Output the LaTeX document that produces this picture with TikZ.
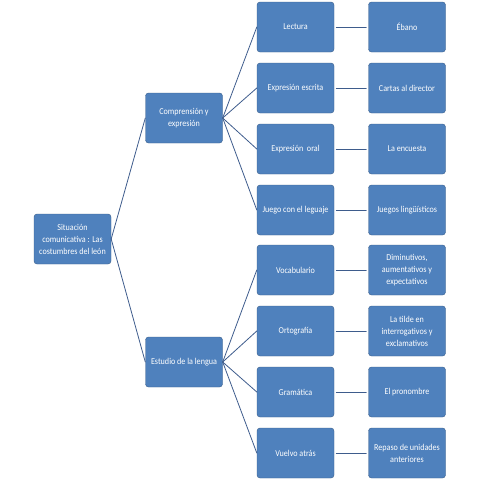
\documentclass[tikz,border=0pt]{standalone}
\usepackage{fontspec}
\setmainfont{Carlito}[FakeStretch=0.9]
\usepackage{tikz}
\definecolor{cajaazul}{RGB}{79,129,189}
\definecolor{bordeazul}{RGB}{56,93,138}
\definecolor{lineaazul}{RGB}{62,92,140}

\begin{document}
\begin{tikzpicture}[x=1pt,y=-1pt,line cap=round,line join=round,
        caja/.style={draw=bordeazul,fill=cajaazul,rounded corners=3pt,minimum width=77pt,minimum height=50pt,inner sep=1pt,align=center,text=white,font=\fontsize{9}{12}\selectfont},
        enlace/.style={color=lineaazul,line width=0.8pt}]
        \useasboundingbox (0,0) rectangle (480,480);
        \node[caja] (sit) at (72.5,239) {Situación\\comunicativa : Las\\costumbres del león};
        \node[caja] (comp) at (184,118) {Comprensión y\\expresión};
        \node[caja] (estu) at (184,362) {Estudio de la lengua};
        \node[caja] (lec) at (295.5,27) {Lectura};
        \node[caja] (escr) at (295.5,88) {Expresión escrita};
        \node[caja] (oral) at (295.5,149) {Expresión~ oral};
        \node[caja] (juego) at (295.5,210) {Juego con el leguaje};
        \node[caja] (voc) at (295.5,270) {Vocabulario};
        \node[caja] (orto) at (295.5,331) {Ortografía};
        \node[caja] (gram) at (295.5,392) {Gramática};
        \node[caja] (vuel) at (295.5,453) {Vuelvo atrás};
        \node[caja] (ebano) at (407,27) {Ébano};
        \node[caja] (cartas) at (407,88) {Cartas al director};
        \node[caja] (encu) at (407,149) {La encuesta};
        \node[caja] (jling) at (407,210) {Juegos lingüísticos};
        \node[caja] (dimi) at (407,270) {Diminutivos,\\aumentativos y\\expectativos};
        \node[caja] (tilde) at (407,331) {La tilde en\\interrogativos y\\exclamativos};
        \node[caja] (pron) at (407,392) {El pronombre};
        \node[caja] (repa) at (407,453) {Repaso de unidades\\anteriores};
        \draw[enlace] (sit.east) -- (comp.west);
        \draw[enlace] (sit.east) -- (estu.west);
        \foreach \h in {lec,escr,oral,juego}
          \draw[enlace] (comp.east) -- (\h.west);
        \foreach \h in {voc,orto,gram,vuel}
          \draw[enlace] (estu.east) -- (\h.west);
        \foreach \a/\b in {lec/ebano,escr/cartas,oral/encu,juego/jling,voc/dimi,orto/tilde,gram/pron,vuel/repa}
          \draw[enlace] ([xshift=2pt]\a.east) -- ([xshift=-2pt]\b.west);
\end{tikzpicture}
\end{document}
